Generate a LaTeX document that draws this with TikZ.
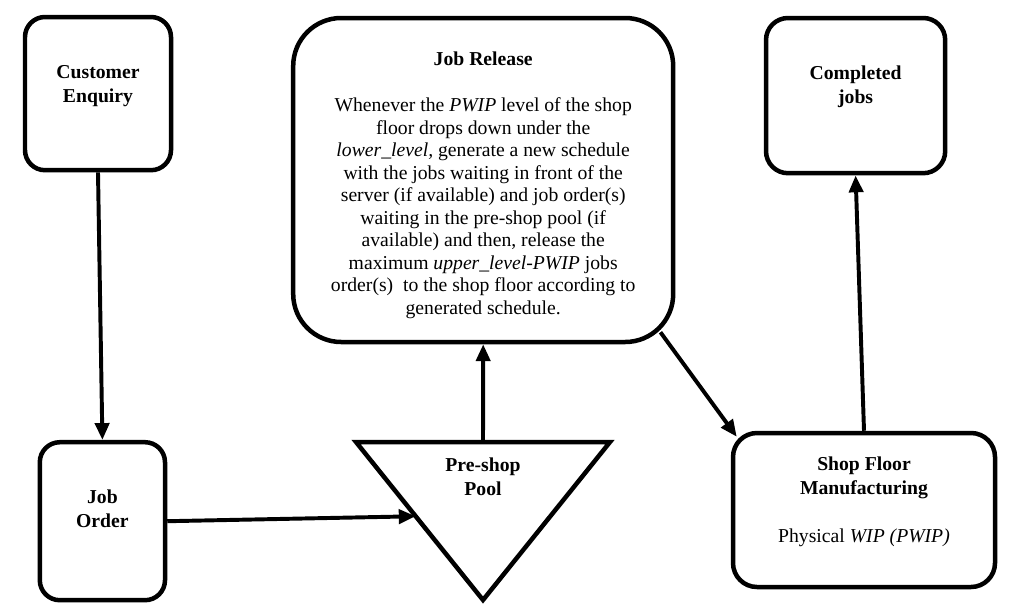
\documentclass[tikz,border=0pt]{standalone}
\usepackage{fontspec}
\setmainfont{Liberation Serif}
\usetikzlibrary{arrows.meta,calc,positioning}
\begin{document}
\begin{tikzpicture}[
  box/.style={rectangle, draw, line width=3.2pt, rounded corners=0.5cm, align=center, font=\fontsize{14}{17}\selectfont},
  flow/.style={-{Triangle[length=12pt,width=10pt]}, line width=2.8pt},
  font=\fontsize{14}{16}\selectfont
]
\useasboundingbox (0,0) rectangle (25.35,-15.35);

\node[box, minimum width=3.65cm, minimum height=3.83cm, text depth=14pt] (cust) at (2.45,-2.34) {\textbf{Customer}\\\textbf{Enquiry}};
\node[box, minimum width=3.13cm, minimum height=3.95cm, text depth=18pt] (order) at (2.56,-13.03) {\textbf{Job}\\\textbf{Order}};
\node[box, rounded corners=1.2cm, minimum width=9.5cm, minimum height=8.1cm, font=\fontsize{14}{16}\selectfont] (release) at (12.08,-4.5)
  {\rule{0pt}{17pt}\textbf{Job Release}\\[17pt]
   Whenever the \textit{PWIP} level of the shop\\
   floor drops down under the\\
   \textit{lower\_level,} generate a new schedule\\
   with the jobs waiting in front of the\\
   server (if available) and job order(s)\\
   waiting in the pre-shop pool (if\\
   available) and then, release the\\
   maximum \textit{upper\_level-PWIP} jobs\\
   order(s)\ \ to the shop floor according to\\
   generated schedule.};
\node[box, rounded corners=0.55cm, minimum width=4.48cm, minimum height=3.88cm, text depth=15pt] (done) at (21.39,-2.39) {\textbf{Completed}\\\textbf{jobs}};
\node[box, rounded corners=0.6cm, minimum width=6.55cm, minimum height=3.85cm, text depth=15pt] (shop) at (21.6,-12.75)
  {\textbf{Shop Floor}\\\textbf{Manufacturing}\\[17pt]Physical \textit{WIP (PWIP)}};

% pre-shop pool
\coordinate (pl) at (8.9,-11.05);
\coordinate (pr) at (15.25,-11.05);
\coordinate (pa) at (12.075,-15.0);
\draw[line width=3.2pt] (pl) -- (pr) -- (pa) -- cycle;
\node[align=center, font=\fontsize{14}{17}\selectfont\bfseries] (pool) at (12.075,-11.93) {Pre-shop\\Pool};
\coordinate (poolin) at ($(pl)!0.47!(pa)$);
\coordinate (pooltop) at ($(pl)!0.5!(pr)$);

\draw[flow] (cust.south) -- (order.north);
\draw[flow] (order.east) -- (poolin);
\draw[flow] (pooltop) -- (release.south);
\draw[flow] ([xshift=-0.375cm,yshift=0.3cm]release.south east) -- ([xshift=0.15cm,yshift=-0.15cm]shop.north west);
\draw[flow] (shop.north) -- (done.south);
\end{tikzpicture}
\end{document}
